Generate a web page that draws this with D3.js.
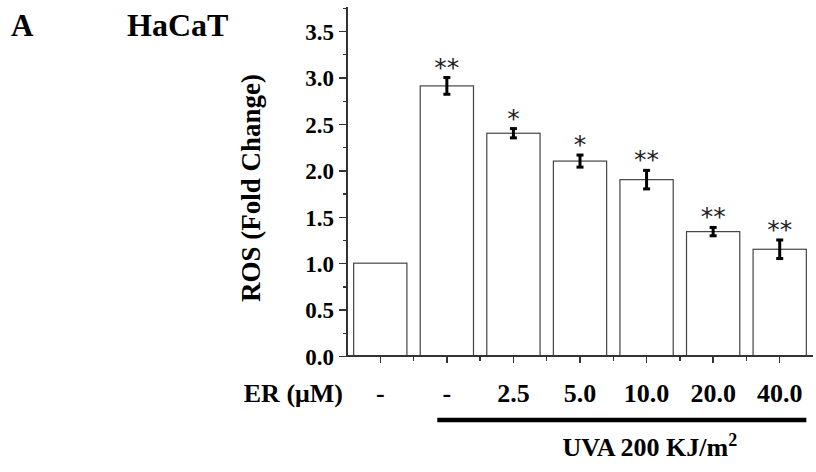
<!DOCTYPE html>
<html>
<head>
<meta charset="utf-8">
<script src="https://cdn.jsdelivr.net/npm/d3@7"></script>
<style>
  body { margin: 0; background: #fff; }
  svg text { font-family: "Liberation Serif", "Times New Roman", serif; font-weight: bold; fill: #000; }
  .axis path, .axis line { stroke: #333; stroke-width: 1.3; shape-rendering: crispEdges; }
</style>
</head>
<body>
<svg id="chart" width="816" height="472"></svg>
<script>
// data
const doses = ['-', '-', '2.5', '5.0', '10.0', '20.0', '40.0'];
const ros = [1.0, 2.91, 2.40, 2.10, 1.90, 1.34, 1.15];
const sem = [0, 0.09, 0.05, 0.065, 0.10, 0.045, 0.10];
const stars = ['', '**', '*', '*', '**', '**', '**'];
const yTicks = [0, 0.5, 1.0, 1.5, 2.0, 2.5, 3.0, 3.5];

const MARGIN = { top: 7, left: 347, right: 3, bottom: 116 };
const W = 816, H = 472;

const svg = d3.select('#chart');

const idx = d3.range(doses.length);
const x = d3.scaleBand()
  .domain(idx)
  .range([MARGIN.left, W - MARGIN.right])
  .paddingInner(0.2)
  .paddingOuter(0.1);
const y = d3.scaleLinear()
  .domain([0, 3.76])
  .range([H - MARGIN.bottom, MARGIN.top]);

// bars
svg.append('g')
  .selectAll('rect')
  .data(idx)
  .join('rect')
  .attr('x', i => x(i))
  .attr('y', i => y(ros[i]))
  .attr('width', x.bandwidth())
  .attr('height', i => y(0) - y(ros[i]))
  .attr('fill', '#fff')
  .attr('stroke', '#444')
  .attr('stroke-width', 1.2);

// error bars
const eb = svg.append('g').selectAll('g')
  .data(idx.filter(i => sem[i] > 0))
  .join('g')
  .attr('transform', i => 'translate(' + (x(i) + x.bandwidth() / 2) + ',0)');
eb.append('line')
  .attr('y1', i => y(ros[i] + sem[i]))
  .attr('y2', i => y(ros[i] - sem[i]))
  .attr('stroke', '#000').attr('stroke-width', 3);
eb.selectAll('.cap')
  .data(i => [ros[i] + sem[i], ros[i] - sem[i]])
  .join('line')
  .attr('x1', -3.5).attr('x2', 3.5)
  .attr('y1', v => y(v)).attr('y2', v => y(v))
  .attr('stroke', '#000').attr('stroke-width', 3);

// significance marks
svg.append('g').selectAll('text')
  .data(idx.filter(i => stars[i]))
  .join('text')
  .attr('x', i => x(i) + x.bandwidth() / 2)
  .attr('y', i => y(ros[i] + sem[i]) - 2)
  .attr('text-anchor', 'middle')
  .style('font-family', '"DejaVu Sans", sans-serif')
  .style('font-weight', 'normal')
  .style('font-size', '25px')
  .style('fill', '#222')
  .text(i => stars[i]);

// y axis with minor ticks
const yAxis = svg.append('g')
  .attr('class', 'axis')
  .attr('transform', 'translate(' + MARGIN.left + ',0)');
yAxis.call(d3.axisLeft(y).tickValues(d3.range(0.25, 3.76, 0.5)).tickSize(4.5).tickFormat(''));
yAxis.call(g => g.select('.domain').remove());
const yMaj = svg.append('g')
  .attr('class', 'axis')
  .attr('transform', 'translate(' + MARGIN.left + ',0)')
  .call(d3.axisLeft(y).tickValues(yTicks).tickSize(8).tickSizeOuter(0).tickFormat(d3.format('.1f')));
yMaj.select('.domain').attr('d', 'M0,' + y(3.76) + 'V' + y(0));
yMaj.selectAll('text')
  .attr('x', -13)
  .attr('dy', '0.36em')
  .style('font-size', '23px');

// x axis: major ticks at bar centres, minor at band edges
const xAxis = svg.append('g')
  .attr('class', 'axis')
  .attr('transform', 'translate(0,' + y(0) + ')');
xAxis.append('path')
  .attr('d', 'M' + MARGIN.left + ',0H' + (W - MARGIN.right));
xAxis.selectAll('.maj')
  .data(idx)
  .join('line')
  .attr('x1', i => x(i) + x.bandwidth() / 2)
  .attr('x2', i => x(i) + x.bandwidth() / 2)
  .attr('y2', 7);
xAxis.selectAll('.min')
  .data(idx.slice(1))
  .join('line')
  .attr('x1', i => x(i) - x.step() * x.paddingInner() / 2)
  .attr('x2', i => x(i) - x.step() * x.paddingInner() / 2)
  .attr('y2', 4.5);

// dose row
svg.append('text')
  .attr('x', 343).attr('y', 402)
  .attr('text-anchor', 'end')
  .style('font-size', '26px')
  .text('ER (\u03bcM)');
svg.append('g').selectAll('text')
  .data(idx)
  .join('text')
  .attr('x', i => x(i) + x.bandwidth() / 2)
  .attr('y', 402)
  .attr('text-anchor', 'middle')
  .style('font-size', '26px')
  .text(i => doses[i]);

// UVA bracket
const lineX0 = x(1) + x.bandwidth() * 0.32;
const lineX1 = x(doses.length - 1) + x.bandwidth();
svg.append('line')
  .attr('x1', lineX0).attr('x2', lineX1)
  .attr('y1', 420).attr('y2', 420)
  .attr('stroke', '#000').attr('stroke-width', 4.5);
const uva = svg.append('text')
  .attr('x', (lineX0 + lineX1) / 2 + 28).attr('y', 456)
  .attr('text-anchor', 'middle')
  .style('font-size', '26px');
uva.append('tspan').text('UVA 200 KJ/m');
uva.append('tspan').attr('dy', -10).style('font-size', '18px').text('2');

// axis title
svg.append('text')
  .attr('transform', 'translate(260,188) rotate(-90)')
  .attr('text-anchor', 'middle')
  .style('font-size', '27px')
  .text('ROS (Fold Change)');

// panel labels
svg.append('text').attr('x', 11).attr('y', 36).style('font-size', '31px').text('A');
svg.append('text').attr('x', 127).attr('y', 36).style('font-size', '32px').text('HaCaT');
</script>
</body>
</html>
